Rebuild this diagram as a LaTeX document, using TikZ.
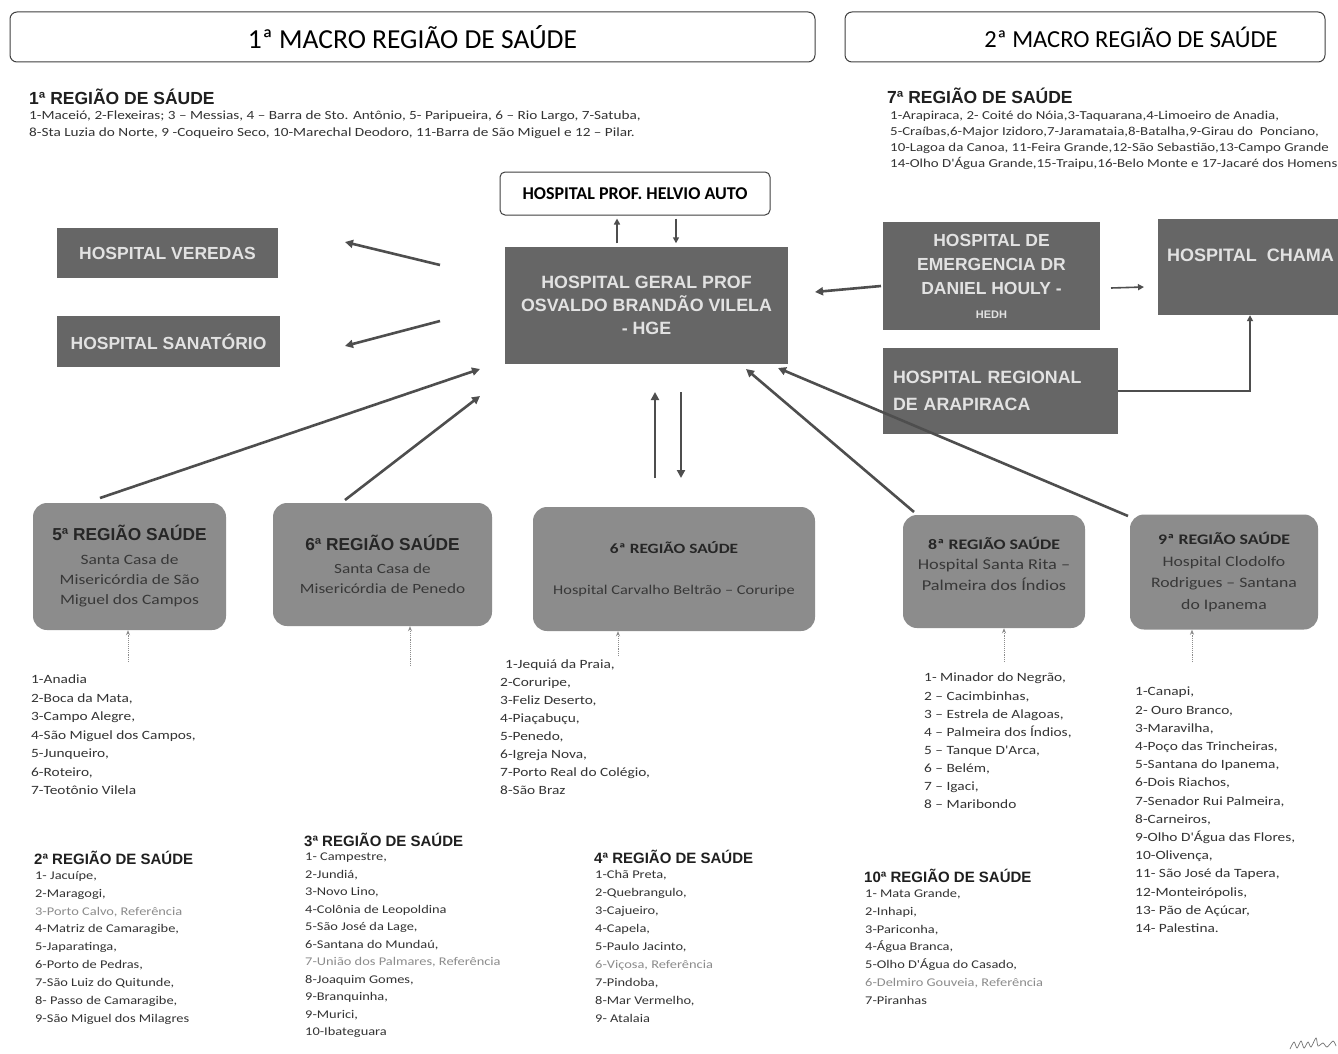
\documentclass[tikz,border=0pt]{standalone}
\usepackage{fontspec}
\setmainfont{Carlito}
\newfontfamily\arial{Liberation Sans}
\newfontfamily\wide[FakeStretch=1.22]{Carlito}
\usetikzlibrary{arrows.meta}
\definecolor{hdark}{HTML}{666666}
\definecolor{rgray}{HTML}{8C8C8C}
\definecolor{htext}{HTML}{E2E2E2}
\definecolor{rtext}{HTML}{383838}
\definecolor{arrowc}{HTML}{4E4E4E}
\newcommand{\myfs}[2]{\fontsize{#1}{#2}\selectfont}
\tikzset{
 macro/.style={draw=black!75, line width=1pt, rounded corners=7pt, fill=white, inner sep=0},
 hosp/.style={fill=hdark, text=htext, align=center, inner sep=4pt},
 regbox/.style={fill=rgray, rounded corners=14pt, text=rtext, align=center, inner sep=3pt},
 bigarr/.style={draw=arrowc, line width=2.6pt, -{Triangle[length=8pt,width=8pt]}},
 midarr/.style={draw=arrowc, line width=1.6pt, -{Triangle[length=6pt,width=6pt]}},
 smallarr/.style={draw=black!45, line width=0.9pt, densely dotted, -{Stealth[length=5pt,width=4pt]}},
 item/.style={anchor=north west, align=left, inner sep=0, text=black!80},
 rtitle/.style={anchor=west, inner sep=0, text=black!88},
}
\newcommand{\rt}[1]{{\arial\bfseries\color{black!85}\myfs{17.3}{20}#1}}
\newcommand{\rtc}[2]{{\bfseries\color{black!85}\myfs{#1}{20}#2}}
\begin{document}
\begin{tikzpicture}[x=1pt,y=-1pt]
\useasboundingbox (0,0) rectangle (1338,1054);
\clip (0,0) rectangle (1338,1054);
\fill[white] (0,0) rectangle (1338,1054);

% macro headers
\node[macro, minimum width=805, minimum height=50, font={\myfs{27.5}{30}}] (mac1) at (412.5,37) {1ª MACRO REGIÃO DE SAÚDE};
\node[macro, minimum width=480, minimum height=50] (mac2) at (1085,37) {};
\node[inner sep=0, font={\myfs{24.5}{28}}] (mac2t) at (1131,37) {2ª MACRO REGIÃO DE SAÚDE};

% 1a regiao
\node[rtitle, font={\arial\bfseries\myfs{17.5}{20}}] (t1) at (29,97) {1ª REGIÃO DE SÁUDE};
\node[item, font={\wide\myfs{12.5}{17}}] (l1) at (29,111) {1-Maceió, 2-Flexeiras; 3 – Messias, 4 – Barra de Sto. Antônio, 5- Paripueira, 6 – Rio Largo, 7-Satuba,\\8-Sta Luzia do Norte, 9 -Coqueiro Seco, 10-Marechal Deodoro, 11-Barra de São Miguel e 12 – Pilar.};

% 7a regiao
\node[rtitle, font={\arial\bfseries\myfs{17.5}{20}}] (t7) at (887,96) {7ª REGIÃO DE SAÚDE};
\node[item, font={\wide\myfs{12.2}{16}}] (l7) at (890,111) {1-Arapiraca, 2- Coité do Nóia,3-Taquarana,4-Limoeiro de Anadia,\\5-Craíbas,6-Major Izidoro,7-Jaramataia,8-Batalha,9-Girau do\ \ Ponciano,\\10-Lagoa da Canoa, 11-Feira Grande,12-São Sebastião,13-Campo Grande\\14-Olho D'Água Grande,15-Traipu,16-Belo Monte e 17-Jacaré dos Homens};

% hospitals
\node[draw=black!75, line width=1pt, rounded corners=5pt, fill=white, minimum width=270, minimum height=43, font={\bfseries\myfs{18}{20}}] (helvio) at (635,193.5) {HOSPITAL PROF. HELVIO AUTO};
\node[hosp, minimum width=221, minimum height=50, font={\arial\bfseries\myfs{17.5}{20}}] (veredas) at (167.5,253) {HOSPITAL VEREDAS};
\node[hosp, minimum width=223, minimum height=51, font={\arial\bfseries\myfs{17.5}{20}}] (sanat) at (168.5,341.5) {HOSPITAL SANATÓRIO};
\node[hosp, minimum width=283, minimum height=117, font={\arial\bfseries\myfs{17.8}{23}}] (hge) at (646.5,305) {HOSPITAL GERAL PROF\\OSVALDO BRANDÃO VILELA\\- HGE};
\node[hosp, minimum width=217, minimum height=108, font={\arial\bfseries\myfs{17.5}{24}}] (hedh) at (991.5,276) {HOSPITAL DE\\EMERGENCIA DR\\DANIEL HOULY -\\{\myfs{11}{24}HEDH}};
\node[hosp, minimum width=200, minimum height=96] (chama) at (1258,267) {};
\node[anchor=west, inner sep=0, text=htext, font={\arial\bfseries\myfs{18}{20}}] (chamat) at (1167,255) {HOSPITAL\ \ CHAMA};
\node[hosp, minimum width=235, minimum height=86, align=left, text width=215, inner xsep=10pt, font={\arial\bfseries\myfs{17.8}{27}}] (arap) at (1000.5,391) {HOSPITAL REGIONAL\\DE ARAPIRACA};

% region boxes
\node[regbox, minimum width=193, minimum height=127, font={\wide\myfs{14.3}{20}}] (r5) at (129.5,566.5) {\rt{5ª REGIÃO SAÚDE}\\[4pt]Santa Casa de\\Misericórdia de São\\Miguel dos Campos};
\node[regbox, minimum width=219, minimum height=123, font={\wide\myfs{14.1}{20}}] (r6a) at (382.5,564.5) {\rt{6ª REGIÃO SAÚDE}\\[3pt]Santa Casa de\\Misericórdia de Penedo};
\node[regbox, minimum width=282, minimum height=124, font={\wide\myfs{13.4}{20}}] (r6b) at (674,569) {\rtc{14.2}{6ª REGIÃO SAÚDE}\\[21pt]Hospital Carvalho Beltrão – Coruripe};
\node[regbox, minimum width=182, minimum height=113, text depth=16pt, font={\wide\myfs{15}{20.5}}] (r8) at (994,571.5) {\rtc{14.6}{8ª REGIÃO SAÚDE}\\Hospital Santa Rita –\\Palmeira dos Índios};
\node[regbox, minimum width=188, minimum height=115, font={\wide\myfs{14.5}{21.5}}] (r9) at (1224,572) {\rtc{14.6}{9ª REGIÃO SAÚDE}\\Hospital Clodolfo\\Rodrigues – Santana\\do Ipanema};

% lists under region boxes
\node[item, font={\wide\myfs{12.6}{18.5}}] (l5) at (31,675) {1-Anadia\\2-Boca da Mata,\\3-Campo Alegre,\\4-São Miguel dos Campos,\\5-Junqueiro,\\6-Roteiro,\\7-Teotônio Vilela};
\node[item, font={\wide\myfs{12.6}{18}}] (l6) at (500,660) {\hspace{5pt}1-Jequiá da Praia,\\2-Coruripe,\\3-Feliz Deserto,\\4-Piaçabuçu,\\5-Penedo,\\6-Igreja Nova,\\7-Porto Real do Colégio,\\8-São Braz};
\node[item, font={\wide\myfs{12.6}{18.1}}] (l8) at (924,673) {1- Minador do Negrão,\\2 – Cacimbinhas,\\3 – Estrela de Alagoas,\\4 – Palmeira dos Índios,\\5 – Tanque D'Arca,\\6 – Belém,\\7 – Igaci,\\8 – Maribondo};
\node[item, font={\wide\myfs{12.6}{18.2}}] (l9) at (1135,687) {1-Canapi,\\2- Ouro Branco,\\3-Maravilha,\\4-Poço das Trincheiras,\\5-Santana do Ipanema,\\6-Dois Riachos,\\7-Senador Rui Palmeira,\\8-Carneiros,\\9-Olho D'Água das Flores,\\10-Olivença,\\11- São José da Tapera,\\12-Monteirópolis,\\13- Pão de Açúcar,\\14- Palestina.};

% other regions
\node[rtitle, font={\arial\bfseries\myfs{15}{18}}] (t2) at (34,858) {2ª REGIÃO DE SAÚDE};
\node[item, font={\wide\myfs{11.8}{17.9}}] (l2) at (35,871) {1- Jacuípe,\\2-Maragogi,\\{\color{black!45}3-Porto Calvo, Referência}\\4-Matriz de Camaragibe,\\5-Japaratinga,\\6-Porto de Pedras,\\7-São Luiz do Quitunde,\\8- Passo de Camaragibe,\\9-São Miguel dos Milagres};
\node[rtitle, font={\arial\bfseries\myfs{15}{18}}] (t3) at (304,840) {3ª REGIÃO DE SAÚDE};
\node[item, font={\wide\myfs{11.8}{17.5}}] (l3) at (305,853) {1- Campestre,\\2-Jundiá,\\3-Novo Lino,\\4-Colônia de Leopoldina\\5-São José da Lage,\\6-Santana do Mundaú,\\{\color{black!45}7-União dos Palmares, Referência}\\8-Joaquim Gomes,\\9-Branquinha,\\9-Murici,\\10-Ibateguara};
\node[rtitle, font={\arial\bfseries\myfs{15}{18}}] (t4) at (594,857) {4ª REGIÃO DE SAÚDE};
\node[item, font={\wide\myfs{11.8}{18}}] (l4) at (595,870) {1-Chã Preta,\\2-Quebrangulo,\\3-Cajueiro,\\4-Capela,\\5-Paulo Jacinto,\\{\color{black!45}6-Viçosa, Referência}\\7-Pindoba,\\8-Mar Vermelho,\\9- Atalaia};
\node[rtitle, font={\arial\bfseries\myfs{15}{18}}] (t10) at (864,876) {10ª REGIÃO DE SAÚDE};
\node[item, font={\wide\myfs{11.8}{17.8}}] (l10) at (865,889) {1- Mata Grande,\\2-Inhapi,\\3-Pariconha,\\4-Água Branca,\\5-Olho D'Água do Casado,\\{\color{black!45}6-Delmiro Gouveia, Referência}\\7-Piranhas};

% connector end points
\coordinate (v1) at (440,265);  \coordinate (v2) at (345,242);
\coordinate (s1) at (440,321);  \coordinate (s2) at (345,346);
\coordinate (p5) at (100,498);  \coordinate (q5) at (480,369);
\coordinate (p6) at (345,500);  \coordinate (q6) at (480,396);
\coordinate (u1) at (655,478);  \coordinate (u2) at (655,392);
\coordinate (d1) at (681,392);  \coordinate (d2) at (681,478);
\coordinate (p8) at (914,512);  \coordinate (q8) at (746,369);
\coordinate (p9) at (1128,516); \coordinate (q9) at (778,368);
\coordinate (e1) at (881,286);  \coordinate (e2) at (815,292);
\coordinate (c1) at (1111,288); \coordinate (c2) at (1144,287);
\coordinate (hu) at (617,0);    \coordinate (hd) at (676,0);
\coordinate (k5) at (128,662);  \coordinate (k6) at (410,666);
\coordinate (k6b) at (618,656); \coordinate (k8) at (1004,662);
\coordinate (k9) at (1192,662); \coordinate (ac) at (1250,0);

% connectors
\draw[bigarr] (v1) -- (v2);
\draw[bigarr] (s1) -- (s2);
\draw[bigarr] (p5) -- (q5);
\draw[bigarr] (p6) -- (q6);
\draw[bigarr] (u1) -- (u2);
\draw[bigarr] (d1) -- (d2);
\draw[bigarr] (p8) -- (q8);
\draw[bigarr] (p9) -- (q9);
\draw[bigarr] (e1) -- (e2);
\draw[midarr] (c1) -- (c2);
\draw[midarr] (arap.east) -- (arap.east -| ac) -- (chama.south -| ac);
\draw[midarr, shorten <=3pt, shorten >=3pt] (hge.north -| hu) -- (helvio.south -| hu);
\draw[midarr, shorten <=3pt, shorten >=3pt] (helvio.south -| hd) -- (hge.north -| hd);

\draw[smallarr] (k5) -- (k5 |- r5.south);
\draw[smallarr] (k6) -- (k6 |- r6a.south);
\draw[smallarr] (k6b) -- (k6b |- r6b.south);
\draw[smallarr] (k8) -- (k8 |- r8.south);
\draw[smallarr] (k9) -- (k9 |- r9.south);

% signature scribble
\draw[black!55, line width=0.7pt] plot[smooth] coordinates {(1290,1049) (1294,1042) (1297,1048) (1301,1041) (1304,1048) (1308,1042) (1311,1047) (1316,1038) (1318,1046) (1323,1043) (1327,1047) (1333,1041) (1336,1046)};
\end{tikzpicture}
\end{document}
